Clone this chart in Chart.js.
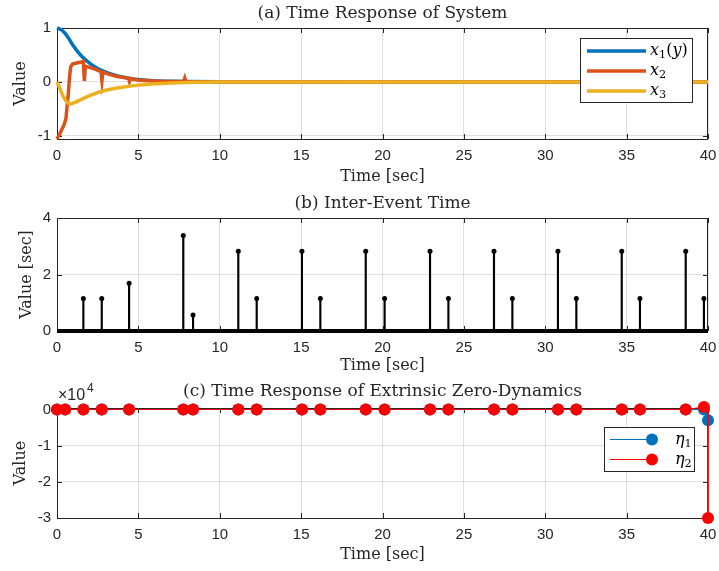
<!DOCTYPE html>
<html>
<head>
<meta charset="utf-8">
<script src="https://cdn.jsdelivr.net/npm/chart.js@4.4.0/dist/chart.umd.min.js"></script>
<style>
  body { margin: 0; background: #fff; width: 719px; height: 571px; overflow: hidden; position: relative; }
  canvas { position: absolute; left: 0; top: 0; }
</style>
</head>
<body>
<canvas id="chartA" width="719" height="571"></canvas>
<canvas id="chartB" width="719" height="571"></canvas>
<canvas id="chartC" width="719" height="571"></canvas>
<script>
// (a) states
const x1T = [0, 0.25, 0.5, 0.75, 1, 1.5, 2, 2.5, 3, 3.5, 4, 4.5, 5, 6, 7, 8, 10, 40];
const x1V = [1, 0.97, 0.9, 0.79, 0.67, 0.48, 0.35, 0.25, 0.18, 0.13, 0.09, 0.065, 0.045, 0.022, 0.011, 0.005, 0.001, 0];
const x2T = [0, 0.18, 0.45, 0.55, 0.62, 0.7, 0.76, 0.84, 0.95, 1.2, 1.5, 1.62, 1.68, 1.74, 2.0, 2.3, 2.7, 2.76, 2.82, 3.2, 3.7, 4.4, 4.45, 4.5, 5.1, 6, 7, 7.78, 7.85, 7.92, 9, 40];
const x2V = [-1.06, -0.96, -0.78, -0.68, -0.45, -0.2, 0.05, 0.28, 0.33, 0.35, 0.37, 0.38, 0.02, 0.29, 0.27, 0.24, 0.19, 0.02, 0.18, 0.14, 0.1, 0.065, 0.01, 0.06, 0.03, 0.015, 0.008, 0.005, 0.07, 0.005, 0, 0];
const x3T = [0, 0.2, 0.4, 0.6, 0.8, 1.1, 1.6, 2.2, 3, 4, 5, 6, 7, 8, 10, 40];
const x3V = [0, -0.14, -0.28, -0.37, -0.41, -0.38, -0.31, -0.23, -0.155, -0.1, -0.06, -0.035, -0.02, -0.012, -0.004, 0];

// (b) inter-event times
const eventT = [1.62, 2.75, 4.43, 7.76, 8.36, 11.14, 12.27, 15.05, 16.18, 18.97, 20.13, 22.92, 24.05, 26.85, 27.98, 30.78, 31.91, 34.70, 35.82, 38.63, 39.75];
const interEvent = [1.15, 1.15, 1.69, 3.38, 0.57, 2.82, 1.15, 2.82, 1.15, 2.82, 1.15, 2.82, 1.15, 2.82, 1.15, 2.82, 1.15, 2.82, 1.15, 2.82, 1.15];
const baseT = [0, 40];
const baseV = [0, 0];

// (c) extrinsic zero-dynamics (last sample jumps at t = 40)
const etaT = [0, 0.5, 1.62, 2.75, 4.43, 7.76, 8.36, 11.14, 12.27, 15.05, 16.18, 18.97, 20.13, 22.92, 24.05, 26.85, 27.98, 30.78, 31.91, 34.70, 35.82, 38.63, 39.75, 40, 40];
const eta1V = [0, 0, 0, 0, 0, 0, 0, 0, 0, 0, 0, 0, 0, 0, 0, 0, 0, 0, 0, 0, 0, 0, 0, 0, -3000];
const eta2V = [0, 0, 0, 0, 0, 0, 0, 0, 0, 0, 0, 0, 0, 0, 0, 0, 0, 0, 0, 0, 0, 0, 650, 0, -30000];

// ticks
const xTicks = [0, 5, 10, 15, 20, 25, 30, 35, 40];
const yTicksA = [-1, 0, 1];
const yTicksB = [0, 2, 4];
const yTicksC = [-30000, -20000, -10000, 0];

const BLUE = '#0072BD', ORANGE = '#D95319', YELLOW = '#EDB120';
const AX = '#262626';
const SERIF = '"DejaVu Serif", "Liberation Serif", serif';
const SANS = '"Liberation Sans", Arial, sans-serif';

const pts = (t, v) => t.map((x, i) => ({ x, y: v[i] }));

// draw "x_1(y)" style labels: letters italic, digits/brackets upright, _ = subscript
function drawMath(ctx, str, x, y, size) {
  let cx = x;
  for (let i = 0; i < str.length; i++) {
    let ch = str[i], sub = false;
    if (ch === '_') { sub = true; ch = str[++i]; }
    const italic = /[a-zA-Zα-ω]/.test(ch);
    const s = sub ? size * 0.7 : size;
    ctx.font = (italic ? 'italic ' : '') + s + 'px ' + SERIF;
    ctx.fillText(ch, cx, sub ? y + size * 0.28 : y);
    cx += ctx.measureText(ch).width;
  }
}

const framePlugin = {
  id: 'frame',
  beforeDatasetsDraw(chart) {
    const { ctx, chartArea: a, scales } = chart;
    ctx.save();
    ctx.strokeStyle = AX;
    ctx.lineWidth = 1;
    ctx.beginPath();
    scales.x.ticks.forEach(t => {
      const px = Math.round(scales.x.getPixelForValue(t.value)) + 0.5;
      ctx.moveTo(px, a.bottom); ctx.lineTo(px, a.bottom - 5);
      ctx.moveTo(px, a.top); ctx.lineTo(px, a.top + 5);
    });
    scales.y.ticks.forEach(t => {
      const py = Math.round(scales.y.getPixelForValue(t.value)) + 0.5;
      ctx.moveTo(a.left, py); ctx.lineTo(a.left + 5, py);
      ctx.moveTo(a.right, py); ctx.lineTo(a.right - 5, py);
    });
    ctx.stroke();
    ctx.strokeRect(a.left + 0.5, a.top + 0.5, a.right - a.left - 1, a.bottom - a.top);
    ctx.restore();
  },
  afterDraw(chart, args, o) {
    const { ctx, chartArea: a } = chart;
    const cx = (a.left + a.right) / 2;
    ctx.save();
    ctx.fillStyle = AX;
    ctx.textBaseline = 'middle';
    ctx.textAlign = 'center';
    ctx.font = '17px ' + SERIF;
    ctx.fillText(o.title, cx, o.titleY);
    ctx.font = '16px ' + SERIF;
    ctx.fillText('Time [sec]', cx, o.xlabelY);
    ctx.save();
    ctx.translate(o.ylabelX, (a.top + a.bottom) / 2);
    ctx.rotate(-Math.PI / 2);
    ctx.fillText(o.ylabel, 0, 0);
    ctx.restore();

    if (o.exponent) {
      ctx.textAlign = 'left';
      ctx.font = '16px ' + SANS;
      ctx.fillText('\u00d710', 58, 396);
      ctx.font = '12px ' + SANS;
      ctx.fillText('4', 87, 389);
    }

    const L = o.legend;
    if (L) {
      ctx.fillStyle = '#fff';
      ctx.fillRect(L.x, L.y, L.w, L.h);
      ctx.strokeStyle = AX;
      ctx.lineWidth = 1;
      ctx.strokeRect(L.x + 0.5, L.y + 0.5, L.w, L.h);
      chart.data.datasets.forEach((ds, i) => {
        if (!ds.label) return;
        const ry = L.y + L.first + i * L.step + (L.marker ? 0.5 : 0);
        ctx.strokeStyle = ds.borderColor;
        ctx.lineWidth = ds.borderWidth;
        ctx.beginPath();
        ctx.moveTo(L.x + L.line0, ry);
        ctx.lineTo(L.x + L.line1, ry);
        ctx.stroke();
        if (L.marker) {
          ctx.fillStyle = ds.pointBackgroundColor;
          ctx.beginPath();
          ctx.arc(L.x + L.line1, ry, 6, 0, Math.PI * 2);
          ctx.fill();
        }
        ctx.fillStyle = '#000';
        ctx.textAlign = 'left';
        ctx.textBaseline = 'middle';
        drawMath(ctx, ds.label, L.x + L.text, ry, 16);
      });
    }
    ctx.restore();
  }
};

function makeOptions(top, bottom, yMin, yMax, yTicks, tickFmt, frame) {
  return {
    responsive: false,
    animation: false,
    events: [],
    layout: { padding: { top, left: 0, right: 11, bottom: 571 - bottom - 24 } },
    plugins: { legend: { display: false }, tooltip: { enabled: false }, frame },
    scales: {
      x: {
        type: 'linear', min: 0, max: 40, offset: false,
        afterFit: s => { s.height = 24; s.paddingLeft = 0; s.paddingRight = 0; },
        afterBuildTicks: s => { s.ticks = xTicks.map(v => ({ value: v })); },
        grid: { color: 'rgba(38,38,38,0.15)', drawTicks: false, offset: false },
        border: { display: false },
        ticks: { color: AX, font: { family: SANS, size: 15 }, padding: 8, maxRotation: 0 }
      },
      y: {
        type: 'linear', min: yMin, max: yMax,
        afterFit: s => { s.width = 57; s.paddingTop = 0; s.paddingBottom = 0; },
        afterBuildTicks: s => { s.ticks = yTicks.map(v => ({ value: v })); },
        grid: { color: 'rgba(38,38,38,0.15)', drawTicks: false },
        border: { display: false },
        ticks: { color: AX, font: { family: SANS, size: 15 }, padding: 6, callback: tickFmt }
      }
    }
  };
}

Chart.register(framePlugin);

new Chart(document.getElementById('chartA'), {
  type: 'line',
  data: {
    datasets: [
      { label: 'x_1(y)', data: pts(x1T, x1V), borderColor: BLUE, borderWidth: 3.5, pointRadius: 0, cubicInterpolationMode: 'monotone', order: 2, clip: false },
      { label: 'x_2', data: pts(x2T, x2V), borderColor: ORANGE, borderWidth: 3.5, pointRadius: 0, order: 1, clip: false },
      { label: 'x_3', data: pts(x3T, x3V), borderColor: YELLOW, borderWidth: 3.5, pointRadius: 0, cubicInterpolationMode: 'monotone', order: 0, clip: false }
    ]
  },
  options: makeOptions(28, 139, -1.06, 1, yTicksA, v => v, {
    title: '(a) Time Response of System', titleY: 14, xlabelY: 177, ylabel: 'Value', ylabelX: 21,
    legend: { x: 580, y: 38, w: 112, h: 64, first: 13, step: 20, line0: 7, line1: 66, text: 70 }
  })
});

new Chart(document.getElementById('chartB'), {
  type: 'scatter',
  data: {
    datasets: [
      { type: 'bar', data: pts(eventT, interEvent), backgroundColor: '#000', barThickness: 1.5 },
      { type: 'scatter', data: pts(eventT, interEvent), pointRadius: 2.5, pointBackgroundColor: '#000', pointBorderWidth: 0 },
      { type: 'line', data: pts(baseT, baseV), borderColor: '#000', borderWidth: 4, pointRadius: 0, clip: false }
    ]
  },
  options: makeOptions(218, 331, 0, 4, yTicksB, v => v, {
    title: '(b) Inter-Event Time', titleY: 204, xlabelY: 366, ylabel: 'Value [sec]', ylabelX: 27
  })
});

// the intermediate t = 40 sample carries no marker
const etaRadius = c => (c.dataIndex === etaT.length - 2 ? 0 : 6);

new Chart(document.getElementById('chartC'), {
  type: 'line',
  data: {
    datasets: [
      { label: '\u03b7_1', data: pts(etaT, eta1V), borderColor: BLUE, borderWidth: 1, pointRadius: etaRadius, pointBackgroundColor: BLUE, pointBorderWidth: 0, order: 1, clip: false },
      { label: '\u03b7_2', data: pts(etaT, eta2V), borderColor: '#FF0000', borderWidth: 1, pointRadius: etaRadius, pointBackgroundColor: '#FF0000', pointBorderWidth: 0, order: 0, clip: false }
    ]
  },
  options: makeOptions(408, 518, -30000, 400, yTicksC, v => v / 10000, {
    title: '(c) Time Response of Extrinsic Zero-Dynamics', titleY: 392, xlabelY: 555, ylabel: 'Value', ylabelX: 21,
    exponent: true,
    legend: { x: 604, y: 427, w: 90, h: 44, first: 12, step: 20, line0: 6, line1: 48, text: 71, marker: true }
  })
});
</script>
</body>
</html>
